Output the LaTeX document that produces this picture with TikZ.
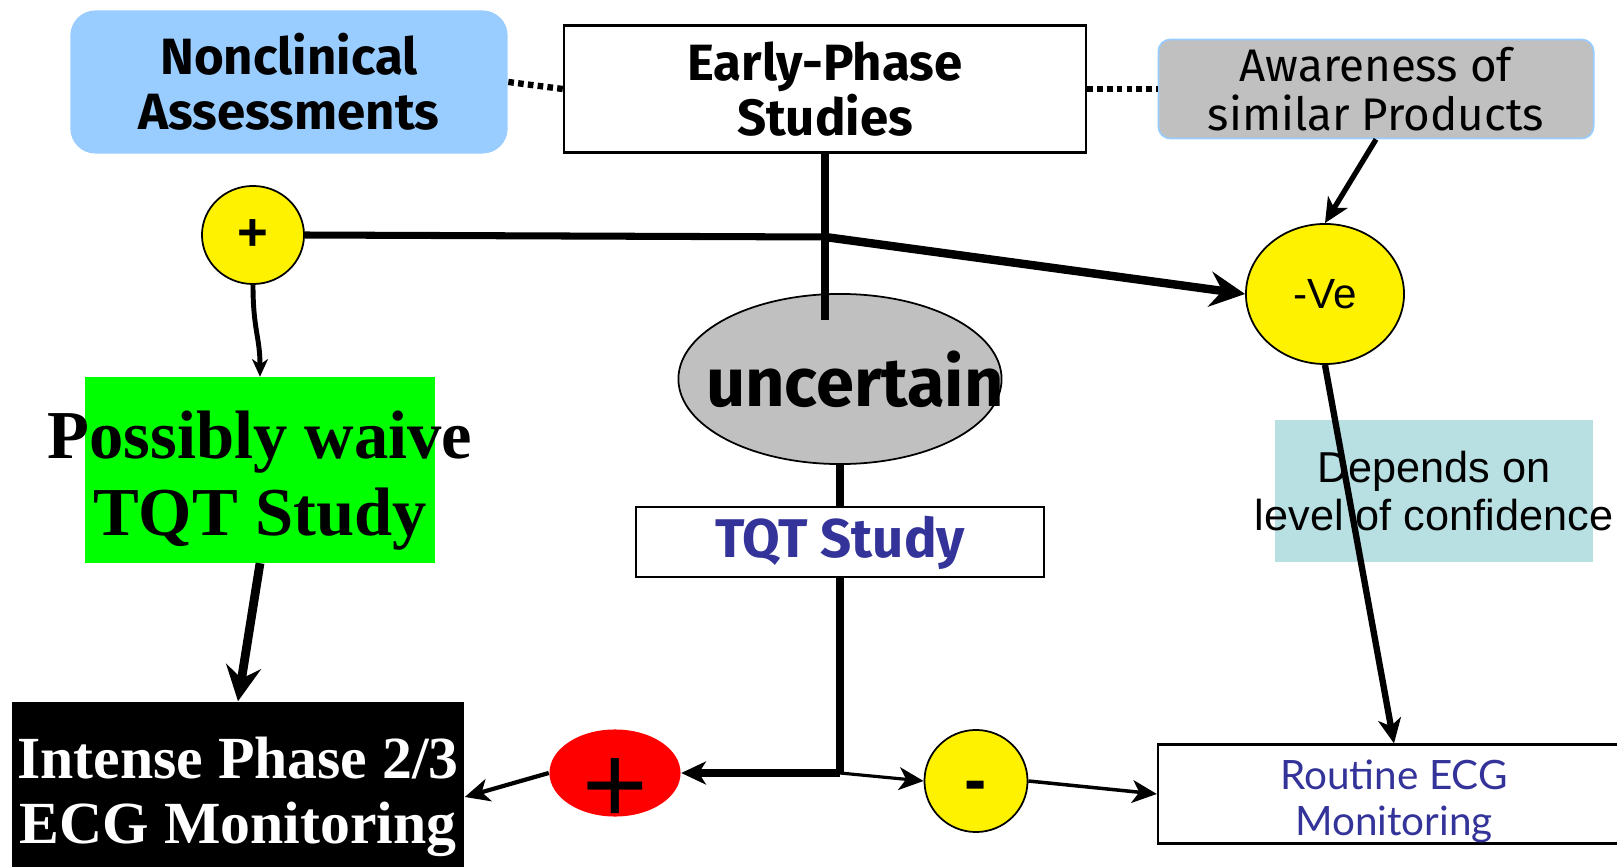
\documentclass[tikz,border=0pt]{standalone}
\usepackage{fontspec}
\setmainfont{Liberation Serif}
\setsansfont{Liberation Sans}
\newfontfamily\comicfont{Fira Sans}
\newfontfamily\routinefont{Lato}
\usetikzlibrary{shapes.geometric,arrows.meta}
\definecolor{skyblue}{HTML}{99CCFF}
\definecolor{midgray}{HTML}{C0C0C0}
\definecolor{paleteal}{HTML}{B8DFE2}
\definecolor{navy}{HTML}{333399}

\begin{document}
\begin{tikzpicture}[x=0.01cm,y=-0.01cm,
    box/.style={draw,line width=0.6pt,fill=white,inner sep=0pt},
    blob/.style={ellipse,draw,line width=0.5pt,fill=yellow,inner sep=0pt},
    comic/.style={font=\comicfont\bfseries\fontsize{14.5}{15.6}\selectfont,align=center,inner sep=0pt},
    dotline/.style={line width=1.8pt,dash pattern=on 1.6pt off 1.2pt},
    bighead/.style={-{Stealth[length=10pt,width=10pt,inset=3.5pt]}},
    midhead/.style={-{Stealth[length=7pt,width=6.5pt,inset=2pt]}},
    smallhead/.style={-{Stealth[length=5pt,width=4.5pt,inset=1.5pt]}}]
    \useasboundingbox (0,0) rectangle (1617,867);
    % top row
    \node[comic,fill=skyblue,rounded corners=0.25cm,minimum width=4.37cm,minimum height=1.43cm] (nonclin) at (289,82) {Nonclinical\\Assessments};
    \node[comic,box,minimum width=5.22cm,minimum height=1.27cm] (early) at (825,89) {Early-Phase\\Studies};
    \node[draw=skyblue,line width=0.5pt,fill=midgray,rounded corners=0.12cm,minimum width=4.35cm,minimum height=0.99cm,inner sep=0pt,align=center,font=\comicfont\fontsize{13}{14}\selectfont] (aware) at (1376,89) {Awareness of\\similar Products};
    % middle
    \node[blob,minimum width=1.02cm,minimum height=0.98cm,font=\sffamily\bfseries\fontsize{15}{15}\selectfont] (plusA) at (253,235) {+};
    \node[blob,minimum width=1.58cm,minimum height=1.4cm,font=\sffamily\fontsize{12}{12}\selectfont] (neg) at (1325,294) {-Ve};
    \node[ellipse,draw,line width=0.5pt,fill=midgray,minimum width=3.23cm,minimum height=1.7cm,inner sep=0pt,font=\comicfont\bfseries\fontsize{19.5}{20}\selectfont] (uncert) at (840,379) {\makebox[0pt]{\hspace{0.3cm}uncertain}};
    \node[fill=green,minimum width=3.49cm,minimum height=1.85cm,inner sep=0pt,align=center,font=\rmfamily\bfseries\fontsize{19.5}{22}\selectfont] (waive) at (260,470) {\rule{0pt}{19.5pt}\makebox[0pt]{Possibly waive}\\\makebox[0pt]{TQT Study}};
    \node[fill=paleteal,minimum width=3.18cm,minimum height=1.42cm,inner sep=0pt,align=center,font=\sffamily\fontsize{12.3}{13.5}\selectfont] (depends) at (1434,491) {\makebox[0pt]{Depends on}\\\makebox[0pt]{level of confidence}};
    \node[box,minimum width=4.07cm,minimum height=0.7cm,text=navy,font=\comicfont\bfseries\fontsize{15.5}{16}\selectfont] (tqt) at (840,542) {\rule{0pt}{12pt}TQT Study};
    % bottom row
    \node[fill=black,minimum width=4.52cm,minimum height=1.9cm,inner sep=0pt,align=center,text=white,font=\rmfamily\bfseries\fontsize{17}{18.5}\selectfont] (intense) at (238,797) {Intense Phase 2/3\\ECG Monitoring};
    \node[ellipse,fill=red,minimum width=1.31cm,minimum height=0.87cm,inner sep=0pt,label={[font=\sffamily\fontsize{32}{32}\selectfont,yshift=-5pt]center:+}] (plusB) at (615,773) {};
    \node[blob,minimum width=1.03cm,minimum height=1.02cm,label={[font=\sffamily\bfseries\fontsize{19}{19}\selectfont,yshift=-3pt]center:-}] (minus) at (976,781) {};
    \node[box,minimum width=4.72cm,minimum height=0.99cm,text=navy,align=center,font=\routinefont\fontsize{11.5}{13}\selectfont] (routine) at (1394,794) {\rule{0pt}{12.5pt}Routine ECG\\Monitoring};
    \coordinate (j) at (825,237);
    \coordinate (stub) at (825,320);
    \coordinate (corner) at (840,773);
    % connectors
    \draw[dotline] (nonclin.east) -- (early.west);
    \draw[dotline] (early.east) -- (aware.west);
    \draw[line width=2pt] (early.south) -- (stub);
    \draw[line width=2pt] (plusA.east) -- (j);
    \draw[line width=2.4pt,bighead] (j) -- (neg.west);
    \draw[line width=1.5pt,midhead] (aware.south) -- (neg.north);
    \draw[line width=1.4pt,smallhead] (plusA.south) .. controls +(0,45) and +(0,-40) .. (waive.north);
    \draw[line width=2.5pt,bighead] (waive.south) -- (intense.north);
    \draw[line width=2pt] (uncert.south) -- (tqt.north);
    \draw[line width=2pt] (tqt.south) -- (corner);
    \draw[line width=2.4pt,midhead] (corner) -- (plusB.east);
    \draw[line width=0.9pt,midhead] (corner) -- (minus.west);
    \draw[line width=1.2pt,midhead] (plusB.west) -- (intense.east);
    \draw[line width=1pt,midhead] (minus.east) -- (routine.west);
    \draw[line width=1.8pt,midhead] (neg.south) -- (routine.north);
\end{tikzpicture}
\end{document}
